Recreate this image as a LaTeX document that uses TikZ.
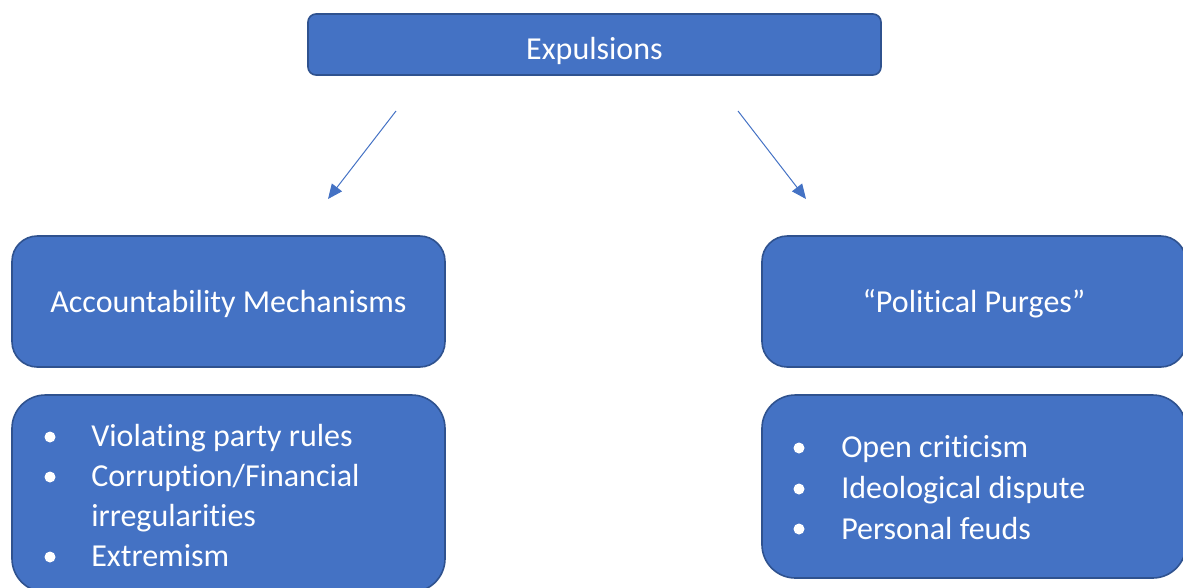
\documentclass[tikz,border=0pt]{standalone}
\usepackage{fontspec}
\setmainfont[RawFeature={-liga;-clig;-calt;-dlig}]{Carlito}
\usetikzlibrary{arrows.meta,positioning}
\definecolor{boxblue}{HTML}{4472C4}
\definecolor{boxedge}{HTML}{2F528F}
\tikzset{
  box/.style={draw=boxedge,line width=1.2pt,fill=boxblue,text=white,
    inner sep=0pt,outer sep=0pt,font=\fontsize{24}{30}\selectfont},
  topbox/.style={box,rounded corners=6pt,minimum width=429.75pt,minimum height=45.75pt,
    text height=21.75pt,text depth=0pt},
  headbox/.style={box,rounded corners=19pt,minimum height=98.25pt,
    text height=15.75pt,text depth=0pt},
  listbox/.style={box,rounded corners=25pt},
  item/.style={anchor=base west,inner sep=0pt,text=white,font=\fontsize{24}{30}\selectfont},
  link/.style={-{Triangle[length=11pt,width=9.5pt]},line width=0.75pt,boxblue},
}

\begin{document}
\begin{tikzpicture}[x=0.75pt,y=-0.75pt]
  \useasboundingbox (0,0) rectangle (1183,587);
  \clip (0,0) rectangle (1183,587);
  % boxes
  \node[topbox] (exp) at (594.5,44.5) {Expulsions};
  \node[headbox,minimum width=324.75pt] (acc) at (228.5,301.5) {Accountability Mechanisms};
  \node[headbox,minimum width=318pt] (pur) at (974,301.5) {``Political Purges''};
  \node[listbox,minimum width=324.75pt,minimum height=147.75pt] (accl) at (228.5,493.5) {};
  \node[listbox,minimum width=318pt,minimum height=137.25pt] (purl) at (974,486.5) {};
  % arrows
  \coordinate (fromL) at (396,111);
  \coordinate (toL) at (328,199);
  \coordinate (fromR) at (738,111);
  \coordinate (toR) at (806,199);
  \draw[link] (fromL) -- (toL);
  \draw[link] (fromR) -- (toR);
  % left list
  \fill[white] (50,437) circle (5.5) (50,477) circle (5.5) (50,557) circle (5.5);
  \node[item] (a1) at (91,446) {Violating party rules};
  \node[item] (a2) at (91,486) {Corruption/Financial};
  \node[item] (a3) at (91,526) {irregularities};
  \node[item] (a4) at (91,566) {Extremism};
  % right list
  \fill[white] (799,448) circle (5.5) (799,489) circle (5.5) (799,529) circle (5.5);
  \node[item] (b1) at (841,457.5) {Open criticism};
  \node[item] (b2) at (841,498.5) {Ideological dispute};
  \node[item] (b3) at (841,539) {Personal feuds};
\end{tikzpicture}
\end{document}
